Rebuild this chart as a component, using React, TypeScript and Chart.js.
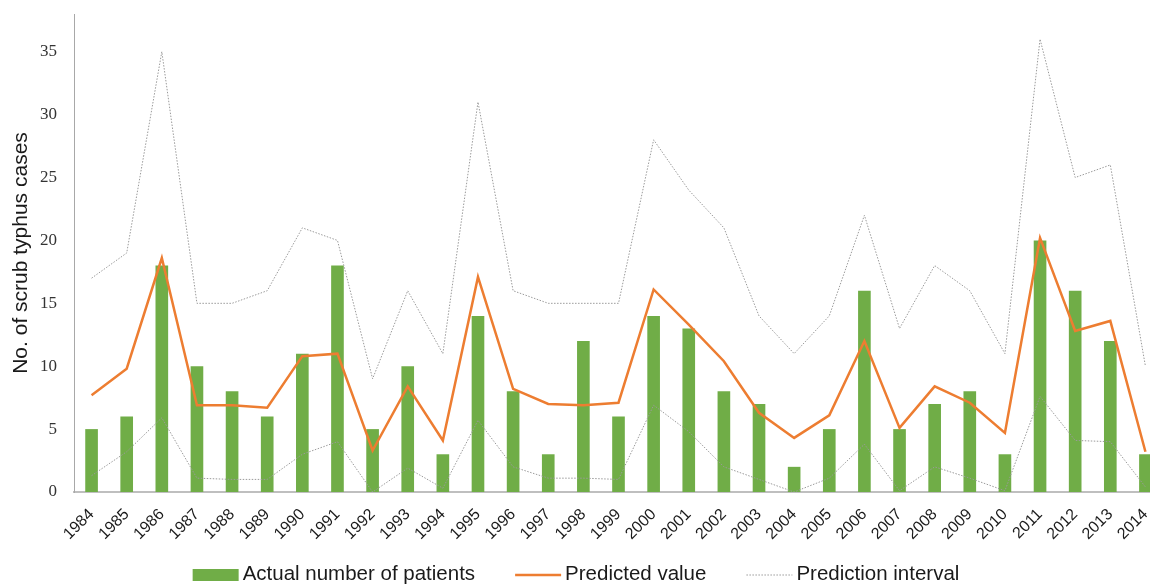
import React, { useEffect, useRef } from "react";
import { Chart, registerables } from "chart.js";

Chart.register(...registerables);

const years = [
  "1984", "1985", "1986", "1987", "1988", "1989", "1990", "1991", "1992", "1993",
  "1994", "1995", "1996", "1997", "1998", "1999", "2000", "2001", "2002", "2003",
  "2004", "2005", "2006", "2007", "2008", "2009", "2010", "2011", "2012", "2013", "2014",
];

const actualPatients = [
  5, 6, 18, 10, 8, 6, 11, 18, 5, 10, 3, 14, 8, 3, 12, 6, 14, 13, 8, 7, 2, 5, 16, 5, 7, 8, 3, 20, 16, 12, 3,
];

const predictedValue = [
  7.7, 9.8, 18.6, 6.9, 6.9, 6.7, 10.8, 11.0, 3.3, 8.4, 4.1, 17.1, 8.2, 7.0, 6.9, 7.1,
  16.1, 13.3, 10.4, 6.3, 4.3, 6.1, 12.0, 5.1, 8.4, 7.1, 4.7, 20.2, 12.8, 13.6, 3.2,
];

const upperInterval = [
  17, 19, 35, 15, 15, 16, 21, 20, 9, 16, 11, 31, 16, 15, 15, 15, 28, 24, 21, 14, 11, 14, 22, 13, 18, 16, 11,
  36, 25, 26, 10,
];

const lowerInterval = [
  1.3, 3.2, 5.9, 1.1, 1.0, 1.0, 3.0, 4.0, 0, 1.9, 0.3, 5.7, 2.0, 1.1, 1.1, 1.0, 6.9, 4.8, 2.0, 1.0, 0,
  1.1, 3.8, 0.1, 2.0, 1.1, 0.1, 7.6, 4.1, 4.0, 0.4,
];

const yTicks = [0, 5, 10, 15, 20, 25, 30, 35];

const legendLabels = ["Actual number of patients", "Predicted value", "Prediction interval"];

const GREEN = "#70AD47";
const ORANGE = "#ED7D31";
const GRAY = "#9A9A9A";

const customLegend = {
  id: "customLegend",
  afterDraw(chart: any) {
    const ctx = chart.ctx;
    ctx.save();
    ctx.font = '20.5px "Liberation Sans", Arial, sans-serif';
    ctx.textBaseline = "alphabetic";
    ctx.fillStyle = "#1a1a1a";
    const boxW = 46;
    const gap = 4;
    const spacing = 40;
    const widths = legendLabels.map((t) => ctx.measureText(t).width);
    const total = widths.reduce((a, b) => a + b, 0) + 3 * (boxW + gap) + 2 * spacing;
    let x = 576 - total / 2;
    const yMid = 575;
    const baseline = 580;
    legendLabels.forEach((label, i) => {
      if (i === 0) {
        ctx.fillStyle = GREEN;
        ctx.fillRect(x, yMid - 6, boxW, 12);
      } else {
        ctx.beginPath();
        ctx.strokeStyle = i === 1 ? ORANGE : GRAY;
        ctx.lineWidth = i === 1 ? 2.5 : 1;
        ctx.setLineDash(i === 1 ? [] : [1.5, 1.5]);
        ctx.moveTo(x, yMid);
        ctx.lineTo(x + boxW, yMid);
        ctx.stroke();
        ctx.setLineDash([]);
      }
      ctx.fillStyle = "#1a1a1a";
      ctx.fillText(label, x + boxW + gap, baseline);
      x += boxW + gap + widths[i] + spacing;
    });
    ctx.restore();
  },
};

export default function App() {
  const canvasRef = useRef<HTMLCanvasElement | null>(null);

  useEffect(() => {
    if (!canvasRef.current) return;
    const chart = new Chart(canvasRef.current, {
      type: "bar",
      data: {
        labels: years,
        datasets: [
          {
            type: "line",
            label: legendLabels[1],
            data: predictedValue,
            borderColor: ORANGE,
            borderWidth: 2.5,
            pointRadius: 0,
            tension: 0,
            order: 0,
          },
          {
            type: "line",
            label: legendLabels[2],
            data: upperInterval,
            borderColor: GRAY,
            borderWidth: 1,
            borderDash: [1.5, 1.5],
            pointRadius: 0,
            tension: 0,
            order: 1,
          },
          {
            type: "line",
            label: "Prediction interval (lower)",
            data: lowerInterval,
            borderColor: GRAY,
            borderWidth: 1,
            borderDash: [1.5, 1.5],
            pointRadius: 0,
            tension: 0,
            order: 1,
          },
          {
            type: "bar",
            label: legendLabels[0],
            data: actualPatients,
            backgroundColor: GREEN,
            borderWidth: 0,
            categoryPercentage: 1,
            barPercentage: 0.36,
            order: 2,
          },
        ],
      },
      options: {
        responsive: false,
        animation: false,
        layout: { padding: { top: 14, right: 7, left: 0, bottom: 0 } },
        plugins: {
          legend: { display: false },
          tooltip: { enabled: false },
        },
        scales: {
          x: {
            grid: { display: false, drawTicks: false },
            border: { display: true, color: "#BFBFBF", width: 2 },
            ticks: {
              autoSkip: false,
              maxRotation: 45,
              minRotation: 45,
              padding: 13,
              color: "#1a1a1a",
              font: { family: '"Liberation Sans", Arial, sans-serif', size: 16 },
            },
            afterFit: (scale: any) => {
              scale.height = 93;
              scale.paddingLeft = 0;
              scale.paddingRight = 0;
              scale.paddingTop = 0;
              scale.paddingBottom = 0;
            },
          },
          y: {
            min: 0,
            max: 38,
            grid: { display: false, drawTicks: false },
            border: { display: true, color: "#A8A8A8", width: 1 },
            afterBuildTicks: (scale: any) => {
              scale.ticks = yTicks.map((v) => ({ value: v }));
            },
            ticks: {
              padding: 17,
              color: "#333333",
              font: { family: '"Liberation Serif", "Times New Roman", serif', size: 17 },
            },
            title: {
              display: true,
              text: "No. of scrub typhus cases",
              color: "#1a1a1a",
              padding: { top: 9, bottom: 0 },
              font: { family: '"Liberation Sans", Arial, sans-serif', size: 21 },
            },
            afterFit: (scale: any) => {
              scale.width = 74;
              scale.paddingTop = 0;
              scale.paddingBottom = 0;
              scale.paddingLeft = 0;
              scale.paddingRight = 0;
            },
          },
        },
      },
      plugins: [customLegend],
    });
    return () => chart.destroy();
  }, []);

  return (
    <div style={{ position: "absolute", left: 0, top: 0, width: 1150, height: 585, overflow: "hidden", background: "#fff" }}>
      <canvas ref={canvasRef} width={1170} height={585} style={{ display: "block" }} />
    </div>
  );
}
